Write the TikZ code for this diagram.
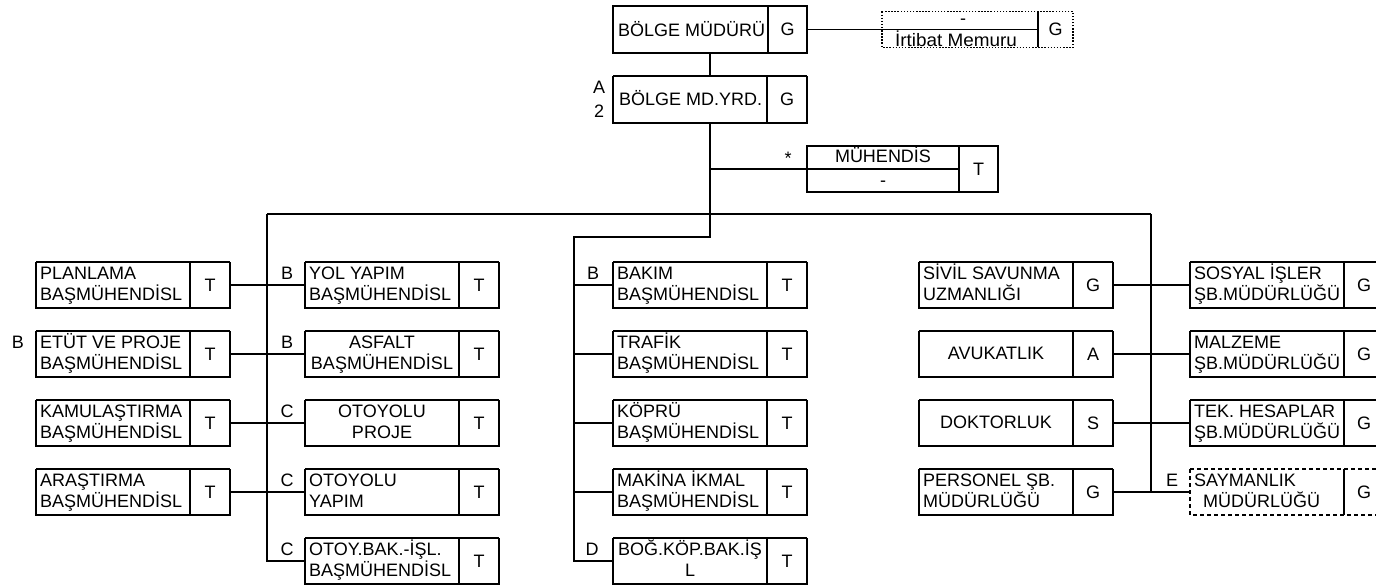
\documentclass[tikz,border=0pt]{standalone}
\usepackage{fontspec}
\setmainfont{Liberation Sans}
\usetikzlibrary{calc}
\tikzset{
  conn/.style={line width=1.3pt},
  boxnode/.style={minimum width=194pt, minimum height=46pt, anchor=north west, inner sep=0pt, outer sep=0pt},
  toprule/.style={line width=1.6pt},
  siderule/.style={line width=2.6pt},
  divrule/.style={line width=1.3pt},
  txt/.style={inner sep=0pt, font=\fontsize{18}{21}\selectfont},
  dashedframe/.style={dash pattern=on 4pt off 3pt},
  dottedframe/.style={line width=1.4pt, dash pattern=on 1.5pt off 1.6pt},
}
\newcommand\myFrame[2]{%
  \draw[toprule,#2] (#1.north west) -- (#1.north east);
  \draw[siderule,#2] (#1.north west) -- (#1.south west) -- (#1.south east) -- (#1.north east);
  \draw[divrule] ($(#1.north east)+(-40,0)$) -- ($(#1.south east)+(-40,0)$);
}
% left-aligned two lines
\newcommand\myBoxL[7][]{%
  \node[boxnode] (#2) at (#3,#4) {};
  \myFrame{#2}{#1}
  \node[txt] (#2c) at ($(#2.east)+(-20,0)$) {#5};
  \node[txt, anchor=base west] (#2a) at ($(#2.north west)+(4,17.5)$) {#6};
  \node[txt, anchor=base west] (#2b) at ($(#2.north west)+(4,38.5)$) {#7};
}
% centered two lines
\newcommand\myBoxC[7][]{%
  \node[boxnode] (#2) at (#3,#4) {};
  \myFrame{#2}{#1}
  \node[txt] (#2c) at ($(#2.east)+(-20,0)$) {#5};
  \node[txt, anchor=base] (#2a) at ($(#2.north west)+(77,17.5)$) {#6};
  \node[txt, anchor=base] (#2b) at ($(#2.north west)+(77,38.5)$) {#7};
}
% centered single line
\newcommand\myBoxS[6][]{%
  \node[boxnode] (#2) at (#3,#4) {};
  \myFrame{#2}{#1}
  \node[txt] (#2c) at ($(#2.east)+(-20,0)$) {#5};
  \node[txt, anchor=base] (#2a) at ($(#2.north west)+(77,28.5)$) {#6};
}
\begin{document}
\begin{tikzpicture}[x=1pt,y=-1pt]
\useasboundingbox (0,0) rectangle (1376,585);

% ---------- top ----------
\node[boxnode, minimum height=47pt] (bm) at (613,6) {};
\draw[siderule] (bm.north west) rectangle (bm.south east);
\draw[siderule] ($(bm.north east)+(-39,0)$) -- ($(bm.south east)+(-39,0)$);
\node[txt, anchor=base west] (bmt) at ($(bm.north west)+(5,31)$) {BÖLGE MÜDÜRÜ};
\node[txt] (bmc) at ($(bm.east)+(-19.5,0)$) {G};

\node[boxnode, minimum height=47pt] (bmy) at (613,76) {};
\myFrame{bmy}{}
\node[txt, anchor=base west] (bmyt) at ($(bmy.north west)+(6,30)$) {BÖLGE MD.YRD.};
\node[txt] (bmyc) at ($(bmy.east)+(-20,0)$) {G};
\node[txt, anchor=base] (la) at (599,94) {A};
\node[txt, anchor=base] (l2) at (599,118) {2};

% liaison officer (dotted)
\node[boxnode, minimum width=191pt, minimum height=36pt] (irt) at (882,11.5) {};
\draw[dottedframe] (irt.north west) rectangle (irt.south east);
\draw[divrule] ($(irt.north east)+(-35,0)$) -- ($(irt.south east)+(-35,0)$);
\coordinate (irtd) at ($(irt.west)+(156,0)$);
\node[txt] (irtc) at ($(irt.east)+(-17.5,0)$) {G};
\node[txt, anchor=base] (irta) at (963,25) {-};
\node[txt, anchor=base] (irtb) at (956,46.5) {\scalebox{1.05}[1]{İrtibat Memuru}};

% engineer
\node[boxnode, minimum width=191pt] (mh) at (807,146) {};
\draw[siderule] (mh.north west) rectangle (mh.south east);
\draw[divrule] ($(mh.north east)+(-39,0)$) -- ($(mh.south east)+(-39,0)$);
\coordinate (mhd) at ($(mh.west)+(152,0)$);
\node[txt] (mhc) at ($(mh.east)+(-19.5,0)$) {T};
\node[txt, anchor=base] (mha) at (883,163) {MÜHENDİS};
\node[txt, anchor=base] (mhb) at (883,187) {-};
\node[txt, anchor=base] (star) at (788,165) {*};

% ---------- column 1 ----------
\myBoxL{p1}{36}{262}{T}{PLANLAMA}{BAŞMÜHENDİSL}
\myBoxL{p2}{36}{331}{T}{ETÜT VE PROJE}{BAŞMÜHENDİSL}
\myBoxL{p3}{36}{400}{T}{KAMULAŞTIRMA}{BAŞMÜHENDİSL}
\myBoxL{p4}{36}{469}{T}{ARAŞTIRMA}{BAŞMÜHENDİSL}
\node[txt, anchor=base] (lp2) at (18,348.5) {B};

% ---------- column 2 ----------
\myBoxL{y1}{305}{262}{T}{YOL YAPIM}{BAŞMÜHENDİSL}
\myBoxC{y2}{305}{331}{T}{ASFALT}{BAŞMÜHENDİSL}
\myBoxC{y3}{305}{400}{T}{OTOYOLU}{PROJE}
\myBoxL{y4}{305}{469}{T}{OTOYOLU}{YAPIM}
\myBoxL{y5}{305}{538}{T}{OTOY.BAK.-İŞL.}{BAŞMÜHENDİSL}
\node[txt, anchor=base] (ly1) at (287,279.5) {B};
\node[txt, anchor=base] (ly2) at (287,348.5) {B};
\node[txt, anchor=base] (ly3) at (287,417.5) {C};
\node[txt, anchor=base] (ly4) at (287,486.5) {C};
\node[txt, anchor=base] (ly5) at (287,555.5) {C};

% ---------- column 3 ----------
\myBoxL{m1}{613}{262}{T}{BAKIM}{BAŞMÜHENDİSL}
\myBoxL{m2}{613}{331}{T}{TRAFİK}{BAŞMÜHENDİSL}
\myBoxL{m3}{613}{400}{T}{KÖPRÜ}{BAŞMÜHENDİSL}
\myBoxL{m4}{613}{469}{T}{MAKİNA İKMAL}{BAŞMÜHENDİSL}
\myBoxC{m5}{613}{538}{T}{BOĞ.KÖP.BAK.İŞ}{L}
\node[txt, anchor=base] (lm1) at (593,279.5) {B};
\node[txt, anchor=base] (lm5) at (592,555.5) {D};

% ---------- column 4 ----------
\myBoxL{s1}{919}{262}{G}{SİVİL SAVUNMA}{UZMANLIĞI}
\myBoxS{s2}{919}{331}{A}{AVUKATLIK}
\myBoxS{s3}{919}{400}{S}{DOKTORLUK}
\myBoxL{s4}{919}{469}{G}{PERSONEL ŞB.}{MÜDÜRLÜĞÜ}

% ---------- column 5 ----------
\myBoxL{r1}{1190}{262}{G}{SOSYAL İŞLER}{ŞB.MÜDÜRLÜĞÜ}
\myBoxL{r2}{1190}{331}{G}{MALZEME}{ŞB.MÜDÜRLÜĞÜ}
\myBoxL{r3}{1190}{400}{G}{TEK. HESAPLAR}{ŞB.MÜDÜRLÜĞÜ}
\myBoxL[dashedframe]{r4}{1190}{469}{G}{SAYMANLIK}{\hspace{9pt}MÜDÜRLÜĞÜ}
\node[txt, anchor=base] (lr4) at (1172,486.5) {E};

% ---------- connectors ----------
\coordinate (busL) at (267,214);
\coordinate (busR) at (1151,214);
\coordinate (j2) at (710,237);
\coordinate (mtop) at (574,237);

\draw[conn] (bm.east) -- (irtd);
\draw[conn] (bm.south) -- (bmy.north);
\draw[conn] (bmy.south) -- (j2) -- (mtop) -- (mtop |- m5.west) -- (m5.west);
\draw[conn] (bmy.south |- mhd) -- (mhd);
\draw[conn] (busL) -- (busR);
\draw[conn] (busL) -- (busL |- y5.west) -- (y5.west);
\draw[conn] (busR) -- (busR |- s4.east);

\foreach \i in {1,2,3,4} {
  \draw[conn] (p\i.east) -- (y\i.west);
  \draw[conn] (s\i.east) -- (r\i.west);
  \draw[conn] (mtop |- m\i.west) -- (m\i.west);
}
\end{tikzpicture}
\end{document}
